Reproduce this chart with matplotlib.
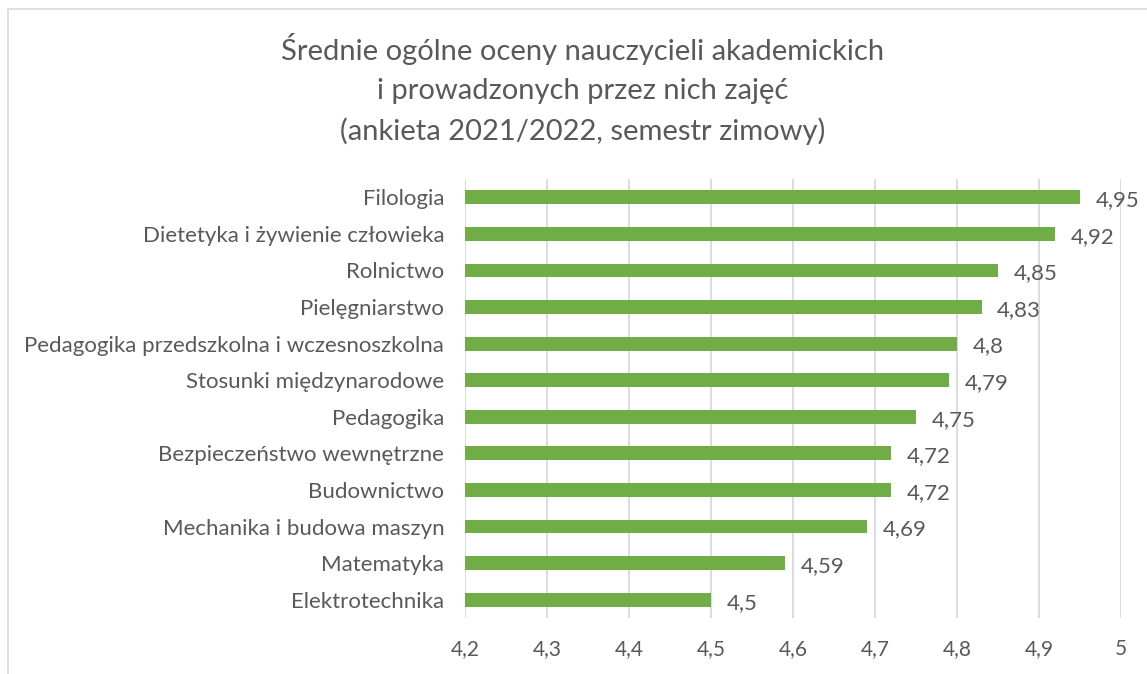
import matplotlib.pyplot as plt
from matplotlib.patches import Rectangle

# data (top to bottom)
categories = ["Filologia", "Dietetyka i żywienie człowieka", "Rolnictwo",
              "Pielęgniarstwo", "Pedagogika przedszkolna i wczesnoszkolna",
              "Stosunki międzynarodowe", "Pedagogika", "Bezpieczeństwo wewnętrzne",
              "Budownictwo", "Mechanika i budowa maszyn", "Matematyka",
              "Elektrotechnika"]
scores = [4.95, 4.92, 4.85, 4.83, 4.8, 4.79, 4.75, 4.72, 4.72, 4.69, 4.59, 4.5]
xticks = [4.2, 4.3, 4.4, 4.5, 4.6, 4.7, 4.8, 4.9, 5.0]

title = ("Średnie ogólne oceny nauczycieli akademickich\n"
         "i prowadzonych przez nich zajęć\n"
         "(ankieta 2021/2022, semestr zimowy)")

plt.rcParams['font.family'] = ['Lato', 'DejaVu Sans']
grey = "#595959"

fig = plt.figure(figsize=(11.47, 6.74), dpi=100)
# chart frame like in the spreadsheet export (cut off right/bottom)
fig.patches.append(Rectangle((8 / 1147, -0.1), 1.2, 1 - 9 / 674 + 0.1,
                             transform=fig.transFigure, fill=False,
                             edgecolor="#D9D9D9", linewidth=1.2))

ax = fig.add_axes([465 / 1147, 1 - 618 / 674, 656 / 1147, 439 / 674])

ypos = list(range(len(categories)))[::-1]
ax.barh(ypos, [s - 4.2 for s in scores], left=4.2, height=0.38,
        color="#70AD47", zorder=3)
for y, s in zip(ypos, scores):
    txt = ("%g" % s).replace(".", ",")
    ax.text(s + 0.019, y - 0.08, txt, va="center", ha="left",
            fontsize=16, color=grey)

ax.set_xlim(4.2, 5.0)
ax.set_ylim(-0.5, len(categories) - 0.5)
ax.set_xticks(xticks)
ax.set_xticklabels([("%g" % t).replace(".", ",") for t in xticks],
                   fontsize=15, color=grey)
ax.set_yticks(ypos)
ax.set_yticklabels(categories, fontsize=16, color=grey)
ax.tick_params(axis="both", length=0)
ax.tick_params(axis="x", pad=15)
ax.tick_params(axis="y", pad=15)
ax.grid(axis="x", color="#D9D9D9", linewidth=1.3, zorder=0)
for side in ["top", "right", "bottom", "left"]:
    ax.spines[side].set_visible(False)

fig.text(583 / 1147, 1 - 89 / 674, title, ha="center", va="center",
         fontsize=21, color=grey, linespacing=1.6)

fig.savefig("out.png", dpi=100)
